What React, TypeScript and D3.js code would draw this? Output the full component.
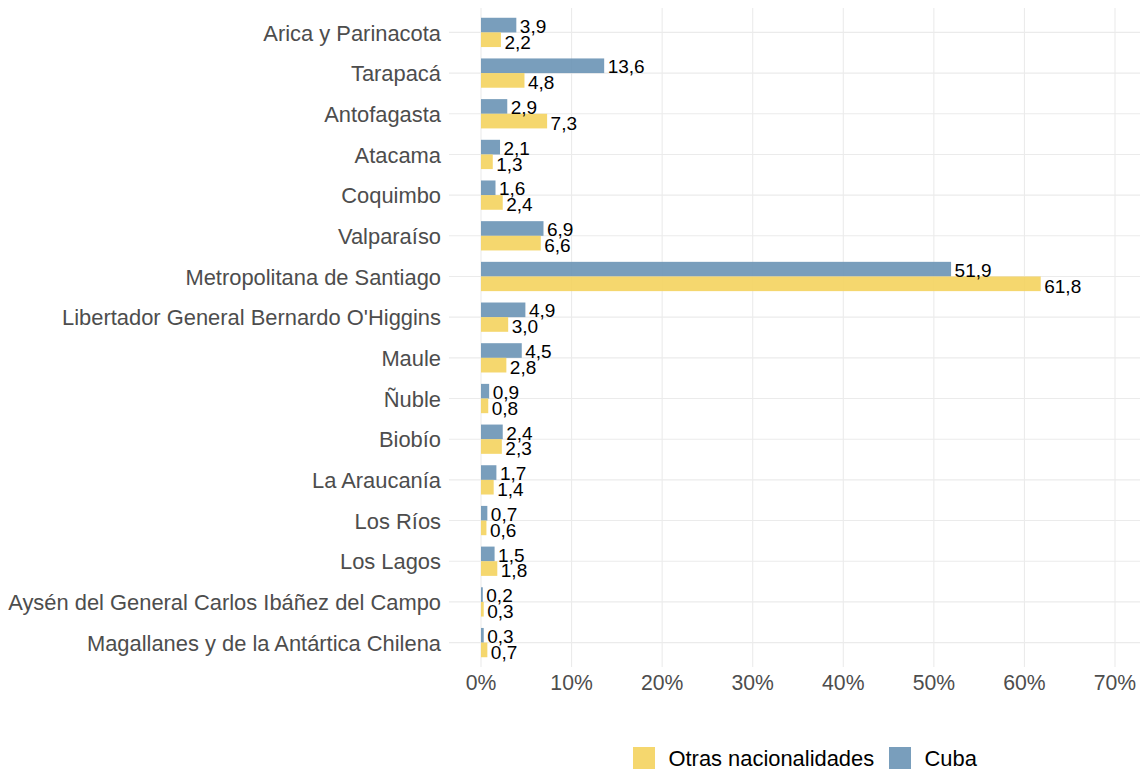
import React from "react";
import * as d3 from "d3";

const categories = [
  "Arica y Parinacota",
  "Tarapacá",
  "Antofagasta",
  "Atacama",
  "Coquimbo",
  "Valparaíso",
  "Metropolitana de Santiago",
  "Libertador General Bernardo O'Higgins",
  "Maule",
  "Ñuble",
  "Biobío",
  "La Araucanía",
  "Los Ríos",
  "Los Lagos",
  "Aysén del General Carlos Ibáñez del Campo",
  "Magallanes y de la Antártica Chilena",
];

const cubaValues = [3.9, 13.6, 2.9, 2.1, 1.6, 6.9, 51.9, 4.9, 4.5, 0.9, 2.4, 1.7, 0.7, 1.5, 0.2, 0.3];
const otrasValues = [2.2, 4.8, 7.3, 1.3, 2.4, 6.6, 61.8, 3.0, 2.8, 0.8, 2.3, 1.4, 0.6, 1.8, 0.3, 0.7];

const xTicks = [0, 10, 20, 30, 40, 50, 60, 70];

const seriesNames = ["Otras nacionalidades", "Cuba"];
const COLORS: Record<string, string> = {
  "Otras nacionalidades": "#F4D35E",
  Cuba: "#6A94B5",
};

const W = 1140;
const H = 769;
const FONT = "'Liberation Sans', Arial, Helvetica, sans-serif";

export default function App() {
  const panelTop = 8;
  const panelBottom = 667;
  const panelLeft = 449;
  const panelRight = 1140;

  const x = d3.scaleLinear().domain([0, 70]).range([481, 1115]);
  const y = d3.scalePoint<string>().domain(categories).range([panelTop, panelBottom]).padding(0.6);
  const step = y.step();
  const barH = step * 0.36;
  const fmt = (v: number) => v.toFixed(1).replace(".", ",");

  return (
    <svg
      width={W}
      height={H}
      style={{ position: "absolute", left: 0, top: 0, background: "#fff" }}
      fontFamily={FONT}
    >
      {/* grid */}
      {categories.map((c) => (
        <line
          key={"hg" + c}
          x1={panelLeft}
          x2={panelRight}
          y1={y(c)!}
          y2={y(c)!}
          stroke="#EBEBEB"
          strokeWidth={1.1}
        />
      ))}
      {xTicks.map((t) => (
        <line
          key={"vg" + t}
          x1={x(t)}
          x2={x(t)}
          y1={panelTop}
          y2={panelBottom}
          stroke="#EBEBEB"
          strokeWidth={1.1}
        />
      ))}

      {/* bars */}
      {categories.map((c, i) => {
        const cy = y(c)!;
        return (
          <g key={"b" + c}>
            <rect
              x={x(0)}
              y={cy - barH}
              width={x(cubaValues[i]) - x(0)}
              height={barH}
              fill={COLORS["Cuba"]}
              fillOpacity={0.9}
            />
            <rect
              x={x(0)}
              y={cy}
              width={x(otrasValues[i]) - x(0)}
              height={barH}
              fill={COLORS["Otras nacionalidades"]}
              fillOpacity={0.9}
            />
            <text
              x={x(cubaValues[i]) + 3.5}
              y={cy - barH / 2 + 0.8}
              dy="0.36em"
              fontSize={19}
              fill="#000"
            >
              {fmt(cubaValues[i])}
            </text>
            <text
              x={x(otrasValues[i]) + 3.5}
              y={cy + barH / 2 + 2}
              dy="0.36em"
              fontSize={19}
              fill="#000"
            >
              {fmt(otrasValues[i])}
            </text>
          </g>
        );
      })}

      {/* y axis labels */}
      {categories.map((c) => (
        <text
          key={"yl" + c}
          x={441}
          y={y(c)!}
          dy="0.37em"
          textAnchor="end"
          fontSize={21.9}
          fill="#4D4D4D"
        >
          {c}
        </text>
      ))}

      {/* x axis labels */}
      {xTicks.map((t) => (
        <text
          key={"xl" + t}
          x={x(t)}
          y={689.5}
          textAnchor="middle"
          fontSize={21.2}
          fill="#4D4D4D"
        >
          {t + "%"}
        </text>
      ))}

      {/* legend */}
      <g>
        <rect x={633} y={747} width={22} height={22} fill={COLORS[seriesNames[0]]} fillOpacity={0.9} />
        <text x={668.5} y={765.5} fontSize={21.9} fill="#000">
          {seriesNames[0]}
        </text>
        <rect x={889} y={747} width={22} height={22} fill={COLORS[seriesNames[1]]} fillOpacity={0.9} />
        <text x={924.5} y={765.5} fontSize={21.9} fill="#000">
          {seriesNames[1]}
        </text>
      </g>
    </svg>
  );
}
